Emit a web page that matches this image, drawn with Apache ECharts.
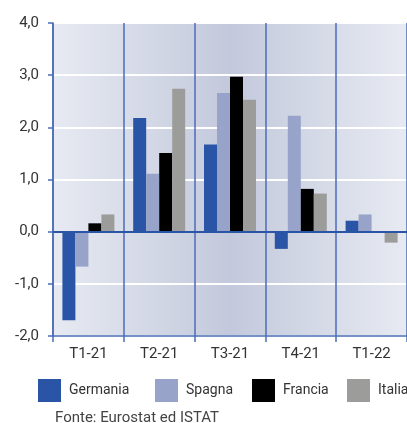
<!DOCTYPE html>
<html>
<head>
<meta charset="utf-8">
<script src="https://cdn.jsdelivr.net/npm/echarts@6/dist/echarts.min.js"></script>
<style>
  html, body { margin: 0; padding: 0; background: #fff; }
  #chart { width: 407px; height: 423px; }
</style>
</head>
<body>
<div id="chart"></div>
<script>
// dati
const quarters = ["T1-21", "T2-21", "T3-21", "T4-21", "T1-22"];
const germania = [-1.70, 2.18, 1.67, -0.33, 0.21];
const spagna = [-0.67, 1.11, 2.66, 2.22, 0.33];
const francia = [0.16, 1.51, 2.97, 0.82, 0.0];
const italia = [0.33, 2.74, 2.53, 0.73, -0.21];
const seriesNames = ["Germania", "Spagna", "Francia", "Italia"];
const seriesColors = ["#2a55a6", "#97a3c9", "#000000", "#9c9c9a"];

const fontFam = "'Liberation Sans Narrow', 'Roboto', sans-serif";
const axisBlue = "#4a6cb6";

let chart = echarts.init(document.getElementById("chart"));

const allData = [germania, spagna, francia, italia];
const series = seriesNames.map(function (name, i) {
  const s = {
    name: name,
    type: "bar",
    data: allData[i],
    barWidth: 13,
    barGap: "0%",
    itemStyle: { color: seriesColors[i] },
  };
  // linea dello zero
  if (i === 0) {
    s.markLine = {
      silent: true,
      symbol: "none",
      label: { show: false },
      lineStyle: { color: "#2a55a6", width: 2, type: "solid" },
      data: [{ yAxis: 0 }],
    };
  }
  return s;
});

// una legenda per voce, per posizionarle come nell'originale
const legendLeft = [33, 150, 247, 342];
const legends = seriesNames.map(function (name, i) {
  return {
    left: legendLeft[i],
    top: 374,
    itemWidth: 23,
    itemHeight: 23,
    icon: "rect",
    selectedMode: false,
    textStyle: { fontSize: 14, color: "#333", fontFamily: fontFam, padding: [0, 0, 0, 3] },
    data: [name],
  };
});

let option = {
  animation: false,
  textStyle: { fontFamily: fontFam },
  grid: {
    left: 53,
    right: -2,
    top: 23,
    bottom: 87,
    show: true,
    borderWidth: 0,
    backgroundColor: new echarts.graphic.LinearGradient(0, 0, 1, 0, [
      { offset: 0, color: "#e7eaf2" },
      { offset: 0.5, color: "#c3c9dc" },
      { offset: 1, color: "#e7eaf2" },
    ]),
  },
  legend: legends,
  title: {
    text: "Fonte: Eurostat ed ISTAT",
    left: 50,
    top: 406,
    textStyle: { fontSize: 15, fontWeight: "normal", color: "#444", fontFamily: fontFam },
  },
  xAxis: {
    type: "category",
    data: quarters,
    axisLine: { show: true, onZero: false, lineStyle: { color: axisBlue, width: 1.5 } },
    axisTick: { show: true, length: 6, lineStyle: { color: axisBlue, width: 1.5 } },
    axisLabel: { fontSize: 15, color: "#333", margin: 11 },
    splitLine: { show: true, lineStyle: { color: axisBlue, width: 1.5 } },
  },
  yAxis: {
    type: "value",
    min: -2,
    max: 4,
    interval: 1,
    axisLine: { show: true, lineStyle: { color: axisBlue, width: 1.5 } },
    axisTick: { show: true, length: 5, lineStyle: { color: axisBlue, width: 1.5 } },
    axisLabel: {
      fontSize: 15,
      color: "#333",
      margin: 14,
      formatter: function (v) { return v.toFixed(1).replace(".", ","); },
    },
    splitLine: { show: true, lineStyle: { color: "#ffffff", width: 2 } },
  },
  series: series,
};

option && chart.setOption(option);
</script>
</body>
</html>
